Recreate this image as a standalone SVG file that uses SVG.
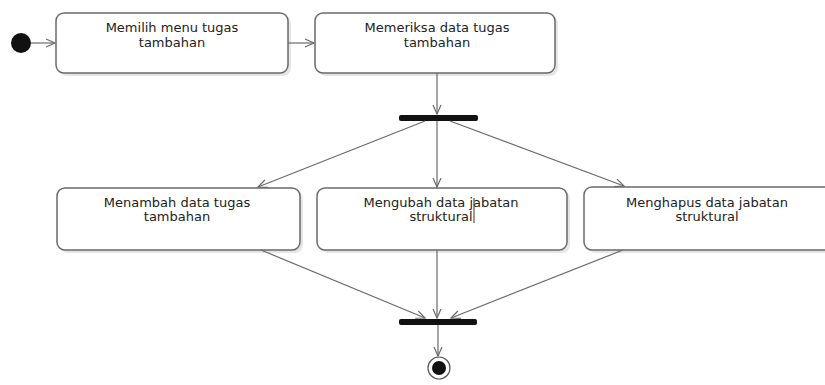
<svg xmlns="http://www.w3.org/2000/svg" width="825" height="385" viewBox="0 0 825 385">
<style>
.box{fill:#fff;stroke:#6a6a6a;stroke-width:1.5}
.sh{fill:#e6e6e6;stroke:none}
.t{font-family:"DejaVu Sans",sans-serif;font-size:13px;fill:#222;text-anchor:middle}
.c{stroke:#6a6a6a;stroke-width:1.2;fill:none;marker-end:url(#a)}
.bar{fill:#111}
</style>
<defs>
<marker id="a" markerWidth="12" markerHeight="12" refX="10" refY="5" orient="auto" markerUnits="userSpaceOnUse">
<path d="M1,1 L10,5 L1,9" fill="none" stroke="#6a6a6a" stroke-width="1.2"/>
</marker>
</defs>
<g id="start"><circle cx="21" cy="43" r="10" fill="#111"/></g>
<g id="n1"><rect class="sh" x="59" y="16" width="232" height="60" rx="8"/><rect class="box" x="56" y="13" width="232" height="60" rx="8"/><text class="t" x="172" y="32">Memilih menu tugas</text><text class="t" x="172" y="47">tambahan</text></g>
<g id="n2"><rect class="sh" x="318" y="16" width="240" height="60" rx="8"/><rect class="box" x="315" y="13" width="240" height="60" rx="8"/><text class="t" x="437" y="32">Memeriksa data tugas</text><text class="t" x="437" y="47">tambahan</text></g>
<g id="fork"><rect class="bar" x="399" y="115" width="79" height="6" rx="2"/></g>
<g id="n3"><rect class="sh" x="60" y="191" width="243" height="62" rx="8"/><rect class="box" x="57" y="188" width="243" height="62" rx="8"/><text class="t" x="177" y="207">Menambah data tugas</text><text class="t" x="177" y="221">tambahan</text></g>
<g id="n4"><rect class="sh" x="320" y="191" width="250" height="62" rx="8"/><rect class="box" x="317" y="188" width="250" height="62" rx="8"/><text class="t" x="441" y="207">Mengubah data jabatan</text><text class="t" x="441" y="221">struktural</text><line x1="474" y1="198" x2="474" y2="223" stroke="#333" stroke-width="1"/></g>
<g id="n5"><rect class="sh" x="587" y="190" width="250" height="63" rx="8"/><rect class="box" x="584" y="187" width="250" height="63" rx="8"/><text class="t" x="707" y="207">Menghapus data jabatan</text><text class="t" x="707" y="221">struktural</text></g>
<g id="join"><rect class="bar" x="399" y="319" width="78" height="6" rx="2"/></g>
<g id="end"><circle cx="439" cy="368" r="11" fill="#fff" stroke="#555" stroke-width="1.2"/><circle cx="439" cy="368" r="7" fill="#111"/></g>
<g id="connectors">
<line class="c" x1="31" y1="43" x2="55" y2="43"/>
<line class="c" x1="288" y1="43" x2="314" y2="43"/>
<line class="c" x1="437" y1="73" x2="437" y2="114"/>
<line class="c" x1="425" y1="121" x2="258" y2="187"/>
<line class="c" x1="437" y1="121" x2="437" y2="187"/>
<line class="c" x1="450" y1="121" x2="624" y2="186"/>
<line class="c" x1="261" y1="250" x2="425" y2="318"/>
<line class="c" x1="437" y1="250" x2="437" y2="318"/>
<line class="c" x1="623" y1="250" x2="451" y2="318"/>
<line class="c" x1="438" y1="325" x2="438" y2="356"/>
</g>
</svg>
